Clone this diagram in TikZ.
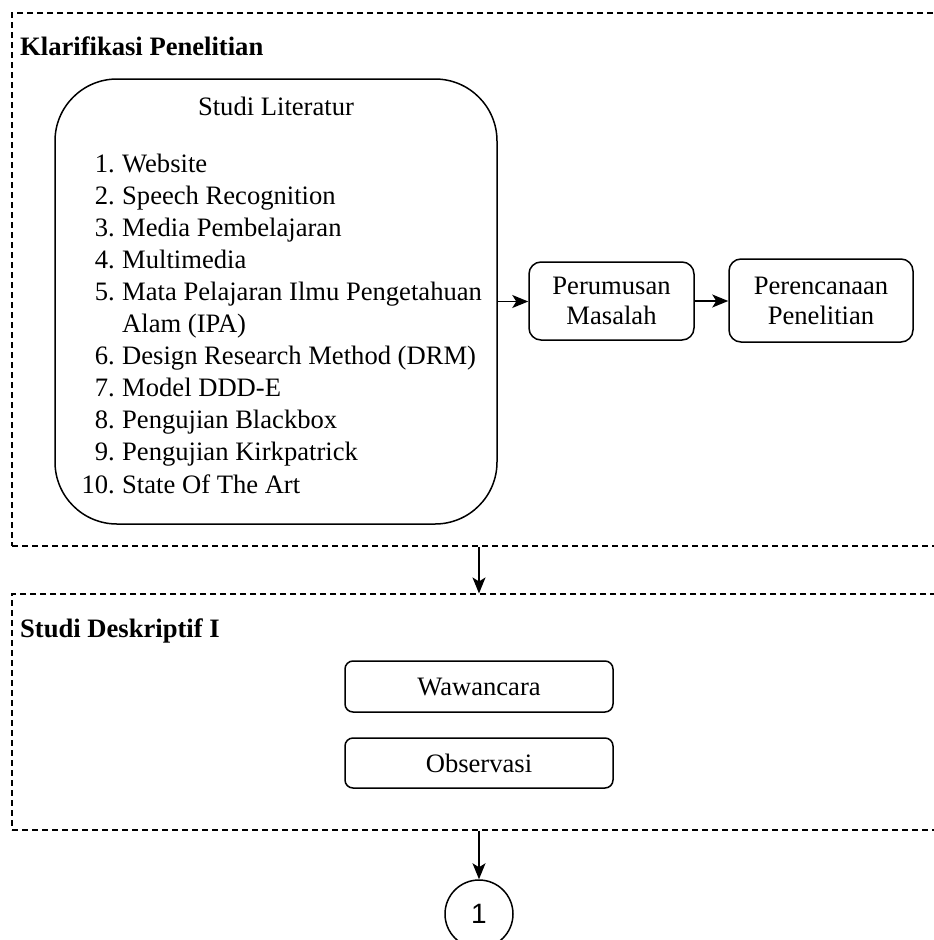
\documentclass[tikz,border=0pt]{standalone}
\usepackage{fontspec}
\setmainfont{Liberation Serif}
\newfontfamily\sansf{Liberation Sans}
\usetikzlibrary{arrows.meta}
\begin{document}
\begin{tikzpicture}[x=1pt,y=-1pt,
  txt/.style={font=\fontsize{26.6}{31}\selectfont, inner sep=0pt},
  ttl/.style={font=\fontsize{26.6}{31}\selectfont\bfseries, inner sep=0pt, anchor=base west},
  dashbox/.style={draw, dash pattern=on 6pt off 4pt, line width=1.1pt, minimum width=934pt, inner sep=0pt},
  bigbox/.style={draw, line width=1.5pt, rounded corners=62pt, inner sep=0pt},
  rbox/.style={draw, line width=1.5pt, rounded corners=#1, inner sep=0pt, align=center, font=\fontsize{26.6}{30}\selectfont},
  circ/.style={draw, line width=1.5pt, circle, minimum size=68pt, inner sep=0pt, font=\sansf\fontsize{28}{32}\selectfont},
  arr/.style={-{Stealth[length=16pt,width=13pt,inset=4pt]}, line width=1.5pt}
]
\clip (0,0) rectangle (934,940);
% dashed group boxes
\node[dashbox, minimum height=533pt] (klar) at (479,279.5) {};
\node[dashbox, minimum height=236pt] (desk) at (479,712) {};
\node[ttl] (klart) at (20,55) {Klarifikasi Penelitian};
\node[ttl] (deskt) at (20,637) {Studi Deskriptif I};
% literature box
\node[bigbox, minimum width=442pt, minimum height=445pt] (lit) at (276,301.5) {};
\node[txt, anchor=base] (littitle) at (276,115) {Studi Literatur};
\foreach \k/\n/\t in {0/1./Website, 1/2./Speech Recognition, 2/3./Media Pembelajaran, 3/4./Multimedia, 4/5./Mata Pelajaran Ilmu Pengetahuan, 5//{Alam (IPA)}, 6/6./{Design Research Method (DRM)}, 7/7./Model DDD-E, 8/8./Pengujian Blackbox, 9/9./Pengujian Kirkpatrick, 10/10./State Of The Art}{
  \node[txt, anchor=base east] (n\k) at (115,172+32.1*\k) {\n};
  \node[txt, anchor=base west] (t\k) at (122,172+32.1*\k) {\t};
}
% right boxes
\node[rbox=12pt, minimum width=165pt, minimum height=78pt] (per) at (611.5,301) {Perumusan\\Masalah};
\node[rbox=12pt, minimum width=184pt, minimum height=83pt] (ren) at (821,300.5) {Perencanaan\\Penelitian};
% descriptive study boxes
\node[rbox=8pt, minimum width=268pt, minimum height=51pt] (waw) at (479,686.5) {Wawancara};
\node[rbox=8pt, minimum width=268pt, minimum height=50pt] (obs) at (479,763) {Observasi};
% connector circle
\node[circ] (c1) at (479,914) {1};
% arrows
\draw[arr] (lit.east) -- (lit.east -| per.west);
\draw[arr] (per.east) -- (per.east -| ren.west);
\draw[arr] (klar.south) -- (desk.north);
\draw[arr] (desk.south) -- (c1.north);
\end{tikzpicture}
\end{document}
